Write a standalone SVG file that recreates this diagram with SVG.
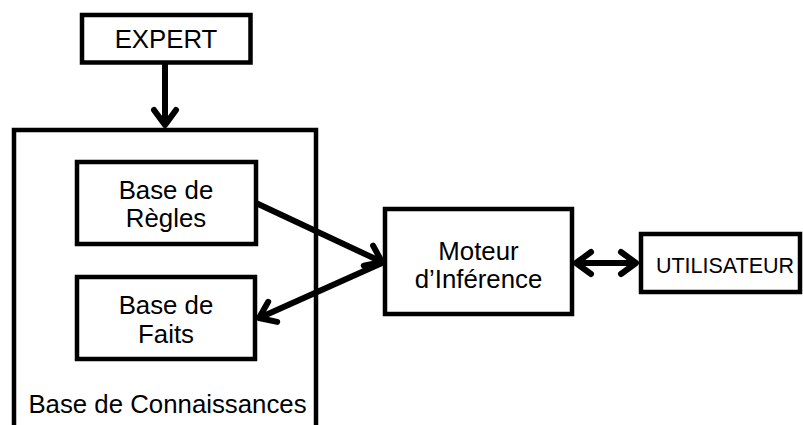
<svg xmlns="http://www.w3.org/2000/svg" width="803" height="425" viewBox="0 0 803 425">
<style>
.box{fill:#fff;stroke:#000;stroke-width:4.5}
.t{font-family:"Liberation Sans",Arial,sans-serif;font-size:25.8px;fill:#000;text-anchor:middle}
.c{fill:none;stroke:#000;stroke-width:6}
</style>
<defs>
<marker id="ah" markerUnits="userSpaceOnUse" markerWidth="40" markerHeight="40" viewBox="-20 -20 40 40" refX="0" refY="0" orient="auto-start-reverse">
<path d="M-15,-11 L0,0 L-15,11" fill="none" stroke="#000" stroke-width="6" stroke-linecap="round" stroke-linejoin="round"/>
</marker>
</defs>
<rect width="803" height="425" fill="#fff"/>
<g id="kb">
<path class="box" d="M14,425 L14,130 L316,130 L316,425" fill="none"/>
<text class="t" x="167.5" y="413">Base de Connaissances</text>
</g>
<g id="expert">
<rect class="box" x="82" y="15" width="168.5" height="47.5"/>
<text class="t" x="166" y="48">EXPERT</text>
</g>
<g id="regles">
<rect class="box" x="77" y="162" width="179" height="82"/>
<text class="t" x="166" y="199">Base de</text>
<text class="t" x="166" y="227">Règles</text>
</g>
<g id="faits">
<rect class="box" x="77" y="277" width="178" height="82"/>
<text class="t" x="166" y="314">Base de</text>
<text class="t" x="166" y="343">Faits</text>
</g>
<g id="moteur">
<rect class="box" x="385" y="209" width="187" height="105"/>
<text class="t" x="478.5" y="260">Moteur</text>
<text class="t" x="478.5" y="288">d’Inférence</text>
</g>
<g id="utilisateur">
<rect class="box" x="641" y="234" width="159" height="58"/>
<text class="t" x="725" y="273" style="font-size:21.5px">UTILISATEUR</text>
</g>
<g id="connectors">
<line class="c" x1="165" y1="63" x2="165" y2="125" marker-end="url(#ah)"/>
<line class="c" x1="256" y1="203" x2="382" y2="262" marker-end="url(#ah)"/>
<line class="c" x1="382" y1="263" x2="259" y2="318" marker-end="url(#ah)"/>
<line class="c" x1="576" y1="263" x2="636" y2="263" marker-start="url(#ah)" marker-end="url(#ah)"/>
</g>
</svg>
